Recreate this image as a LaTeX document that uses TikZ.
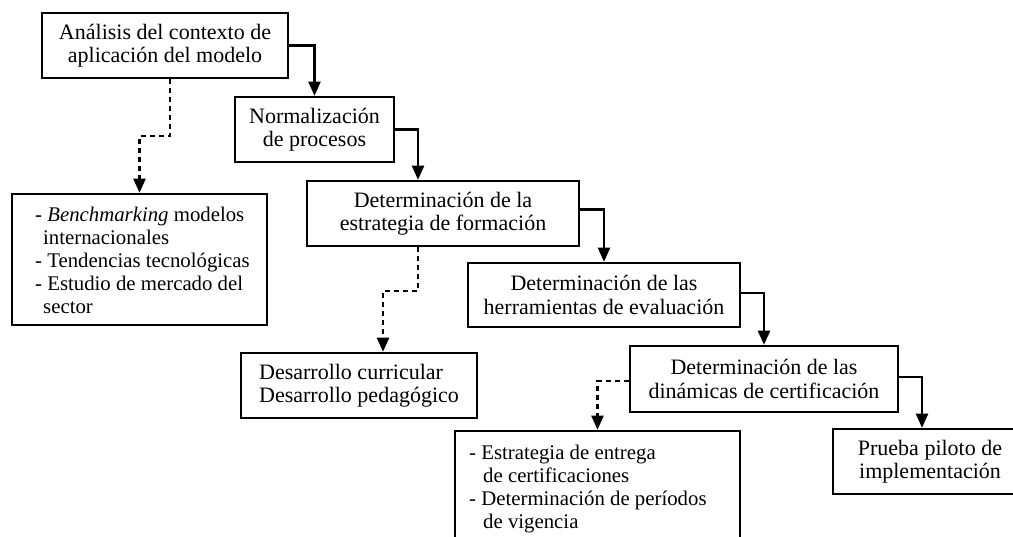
\documentclass[tikz,border=0pt]{standalone}
\usepackage{fontspec}
\setmainfont{Liberation Serif}
\usetikzlibrary{arrows.meta}
\begin{document}
\begin{tikzpicture}[x=1pt,y=-1pt,
  box/.style={draw,line width=2.5pt,inner sep=0pt,align=center,
    font=\fontsize{22}{23.5}\selectfont},
  listbox/.style={draw,line width=2.5pt,inner sep=0pt},
  listtext/.style={inner sep=0pt,align=left,anchor=north west,
    font=\fontsize{20.8}{23}\selectfont},
  flow/.style={line width=2.2pt,-{Triangle[length=14pt,width=12pt]}},
  side/.style={flow,dash pattern=on 5pt off 4pt},
]
\useasboundingbox (0,0) rectangle (1013,537);
\clip (0,0) rectangle (1013,537);

% main chain
\node[box,minimum width=246pt,minimum height=65pt] (A) at (165,45.5)
  {Análisis del contexto de\\aplicación del modelo};
\node[box,minimum width=159pt,minimum height=65pt] (B) at (314.5,129.5)
  {Normalización\\de procesos};
\node[box,minimum width=272pt,minimum height=65pt] (D) at (443,213.5)
  {Determinación de la\\estrategia de formación};
\node[box,minimum width=272pt,minimum height=64pt] (F) at (604,295)
  {Determinación de las\\herramientas de evaluación};
\node[box,minimum width=268pt,minimum height=66pt] (G) at (764,379)
  {Determinación de las\\dinámicas de certificación};
\node[box,minimum width=194pt,minimum height=65pt] (H) at (930,461.5)
  {Prueba piloto de\\implementación};

% side boxes
\node[listbox,minimum width=255pt,minimum height=131pt] (C) at (139.5,259.5) {};
\node[listtext] (Ct) at (35,207)
  {- \textit{Benchmarking} modelos\\
   \hspace*{8pt}internacionales\\
   - Tendencias tecnológicas\\
   - Estudio de mercado del\\
   \hspace*{8pt}sector};
\node[box,minimum width=236pt,minimum height=65pt,align=left] (E) at (359,385.5)
  {Desarrollo curricular\\Desarrollo pedagógico};
\node[listbox,minimum width=285pt,minimum height=130pt] (I) at (597.5,496) {};
\node[listtext] (It) at (469,445)
  {- Estrategia de entrega\\
   \hspace*{14pt}de certificaciones\\
   - Determinación de períodos\\
   \hspace*{14pt}de vigencia};

% solid connectors
\draw[flow] (A.east) -| (B.north);
\draw[flow] (B.east) -| ([xshift=-25pt]D.north);
\draw[flow] ([yshift=4pt]D.east) -| (F.north);
\draw[flow] ([yshift=2pt]F.east) -| (G.north);
\draw[flow] ([yshift=2pt]G.east) -| ([xshift=-8pt]H.north);

% dashed connectors
\draw[side] ([xshift=5pt]A.south) -- ++(0,57) -| (C.north);
\draw[side] ([xshift=-25pt]D.south) -- ++(0,44) -| ([xshift=24pt]E.north);
\draw[side] ([yshift=-2pt]G.west) -| (I.north);
\end{tikzpicture}
\end{document}
